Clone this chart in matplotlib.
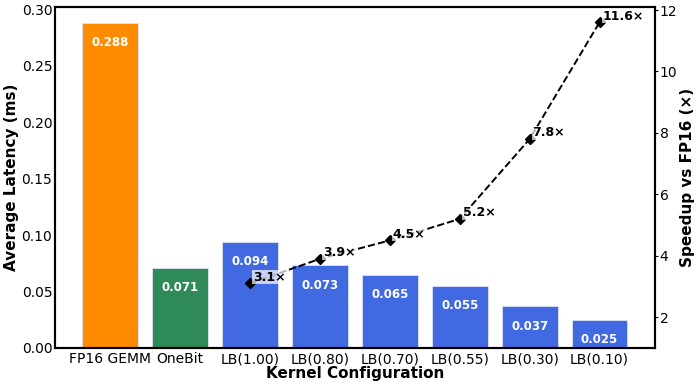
import numpy as np
import matplotlib.pyplot as plt

kernels = ['FP16 GEMM', 'OneBit', 'LB(1.00)', 'LB(0.80)', 'LB(0.70)',
           'LB(0.55)', 'LB(0.30)', 'LB(0.10)']
latency = [0.288, 0.071, 0.094, 0.073, 0.065, 0.055, 0.037, 0.025]
speedup_labels = ['LB(1.00)', 'LB(0.80)', 'LB(0.70)', 'LB(0.55)', 'LB(0.30)', 'LB(0.10)']
speedup = [3.1, 3.9, 4.5, 5.2, 7.8, 11.6]
colors = ['#FF8C00', '#2E8B57'] + ['#4169E1'] * 6


def main():
    fig, ax = plt.subplots(figsize=(6.98, 3.87), dpi=100)
    x = np.arange(len(kernels))
    bars = ax.bar(x, latency, width=0.8, color=colors, edgecolor='#dde3f5', linewidth=0.6)

    # value labels inside the bars
    for b, v in zip(bars, latency):
        ax.text(b.get_x() + b.get_width() / 2, v - 0.012, f'{v:.3f}',
                ha='center', va='top', color='white', fontweight='bold', fontsize=8.5)

    ax.set_xticks(x)
    ax.set_xticklabels(kernels, fontsize=10)
    ax.tick_params(axis='both', length=0, pad=3)
    ax.tick_params(axis='y', labelsize=10, pad=2)
    ax.set_ylim(0, 0.302)
    ax.set_xlim(-0.79, 7.79)
    ax.set_xlabel('Kernel Configuration', fontsize=11, fontweight='bold', labelpad=0)
    ax.set_ylabel('Average Latency (ms)', fontsize=11, fontweight='bold', labelpad=2)

    ax2 = ax.twinx()
    sx = [kernels.index(k) for k in speedup_labels]
    ax2.plot(sx, speedup, color='black', linestyle='--', marker='D', markersize=5.5, linewidth=1.4)
    for xi, s in zip(sx, speedup):
        ax2.annotate(f'{s:.1f}×', (xi, s), xytext=(2, 4.5), textcoords='offset points',
                     ha='left', va='center', fontsize=9, fontweight='bold',
                     bbox=dict(boxstyle='square,pad=0.05', facecolor='white', edgecolor='none', alpha=0.7))
    ax2.set_ylim(1.0, 12.1)
    ax2.set_yticks([2, 4, 6, 8, 10, 12])
    ax2.tick_params(axis='y', labelsize=10, length=2, pad=1.5)
    ax2.set_ylabel('Speedup vs FP16 (×)', fontsize=11, fontweight='bold', labelpad=2)

    for a in (ax, ax2):
        for sp in a.spines.values():
            sp.set_linewidth(1.5)

    fig.subplots_adjust(left=0.079, right=0.938, top=0.982, bottom=0.101)
    fig.savefig('out.png', dpi=100)


if __name__ == "__main__":
    main()
